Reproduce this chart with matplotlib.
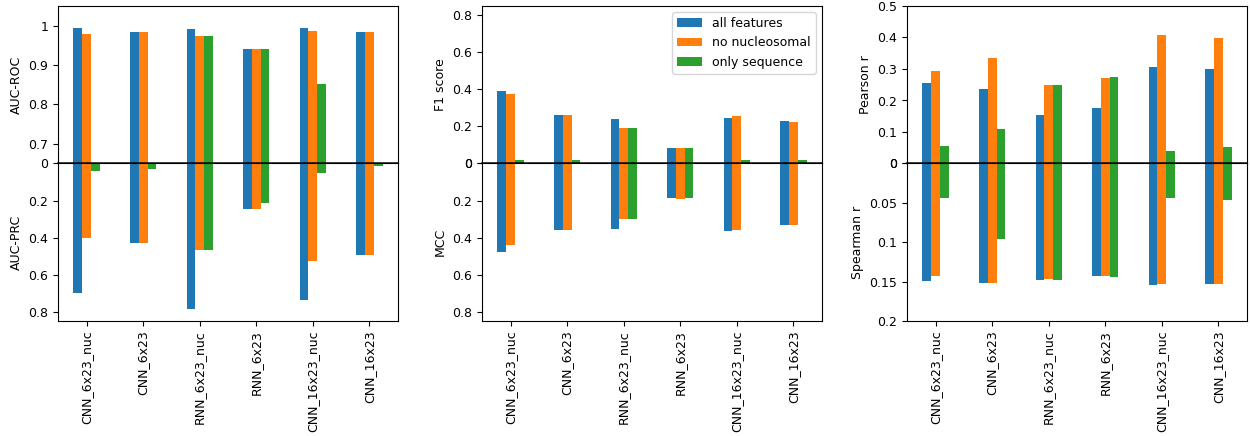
import matplotlib
matplotlib.use("Agg")
import matplotlib.pyplot as plt
import numpy as np
from matplotlib.ticker import FuncFormatter

plt.rcParams["font.size"] = 9

models = ["CNN_6x23_nuc", "CNN_6x23", "RNN_6x23_nuc", "RNN_6x23", "CNN_16x23_nuc", "CNN_16x23"]
series = ["all features", "no nucleosomal", "only sequence"]

# AUC-ROC (top of panel 1); only-sequence values below 0.65 are off-scale
auc_roc_all = [0.995, 0.983, 0.991, 0.942, 0.995, 0.983]
auc_roc_nonuc = [0.978, 0.983, 0.973, 0.942, 0.986, 0.983]
auc_roc_seq = [0.50, 0.50, 0.973, 0.942, 0.851, 0.50]
# AUC-PRC (bottom of panel 1)
auc_prc_all = [0.697, 0.427, 0.784, 0.243, 0.735, 0.492]
auc_prc_nonuc = [0.400, 0.427, 0.468, 0.243, 0.524, 0.492]
auc_prc_seq = [0.043, 0.027, 0.468, 0.211, 0.049, 0.011]
# F1 score (top of panel 2)
f1_all = [0.393, 0.263, 0.241, 0.085, 0.247, 0.231]
f1_nonuc = [0.377, 0.263, 0.193, 0.085, 0.258, 0.225]
f1_seq = [0.020, 0.020, 0.193, 0.085, 0.020, 0.020]
# MCC (bottom of panel 2)
mcc_all = [0.476, 0.357, 0.351, 0.184, 0.362, 0.330]
mcc_nonuc = [0.438, 0.357, 0.297, 0.189, 0.357, 0.330]
mcc_seq = [0.0, 0.0, 0.297, 0.184, 0.004, 0.0]
# Pearson r (top of panel 3)
pearson_all = [0.256, 0.237, 0.155, 0.177, 0.307, 0.301]
pearson_nonuc = [0.294, 0.336, 0.250, 0.272, 0.409, 0.399]
pearson_seq = [0.056, 0.110, 0.250, 0.275, 0.040, 0.053]
# Spearman r (bottom of panel 3)
spearman_all = [0.1487, 0.1513, 0.1475, 0.1424, 0.1538, 0.1525]
spearman_nonuc = [0.1424, 0.1513, 0.1462, 0.1424, 0.1525, 0.1525]
spearman_seq = [0.0432, 0.0953, 0.1475, 0.1436, 0.0432, 0.0458]

panels = [
    ("AUC-ROC", [auc_roc_all, auc_roc_nonuc, auc_roc_seq], (0.65, 1.05), [0.7, 0.8, 0.9, 1.0],
     "AUC-PRC", [auc_prc_all, auc_prc_nonuc, auc_prc_seq], 0.85, [0, 0.2, 0.4, 0.6, 0.8]),
    ("F1 score", [f1_all, f1_nonuc, f1_seq], (0.0, 0.85), [0, 0.2, 0.4, 0.6, 0.8],
     "MCC", [mcc_all, mcc_nonuc, mcc_seq], 0.85, [0, 0.2, 0.4, 0.6, 0.8]),
    ("Pearson r", [pearson_all, pearson_nonuc, pearson_seq], (0.0, 0.5), [0, 0.1, 0.2, 0.3, 0.4, 0.5],
     "Spearman r", [spearman_all, spearman_nonuc, spearman_seq], 0.2, [0, 0.05, 0.1, 0.15, 0.2]),
]

colors = ["#1f77b4", "#ff7f0e", "#2ca02c"]
fig = plt.figure(figsize=(12.5, 4.36), dpi=100)

W = 340 / 1250
lefts = [58 / 1250, 482 / 1250, 907 / 1250]
y_top = 1 - 6 / 436
y_mid = 1 - 163.5 / 436
y_bot = 1 - 321 / 436

x = np.arange(len(models))
w = 0.155
fmt = FuncFormatter(lambda v, p: "%g" % round(v, 4))

for k, (tl, tvals, tlim, tticks, bl, bvals, blim, bticks) in enumerate(panels):
    axt = fig.add_axes([lefts[k], y_mid, W, y_top - y_mid])
    axb = fig.add_axes([lefts[k], y_bot, W, y_mid - y_bot], sharex=axt)
    for i in range(3):
        axt.bar(x + (i - 1.5) * w, tvals[i], width=w, align="edge", color=colors[i], label=series[i])
        axb.bar(x + (i - 1.5) * w, bvals[i], width=w, align="edge", color=colors[i])
    axt.set_ylim(*tlim)
    axt.set_yticks(tticks)
    axt.yaxis.set_major_formatter(fmt)
    axb.set_ylim(blim, 0)
    axb.set_yticks(bticks)
    axb.yaxis.set_major_formatter(fmt)
    axt.tick_params(axis="x", bottom=False, labelbottom=False)
    axb.set_xticks(x)
    axb.set_xticklabels(models, rotation=90)
    axt.set_ylabel(tl)
    axb.set_ylabel(bl)
    axb.axhline(0, color="black", lw=1.2, alpha=0.85, clip_on=False, zorder=5)
    if k == 1:
        axt.legend(loc="upper right")

fig.savefig("out.png", dpi=100)
